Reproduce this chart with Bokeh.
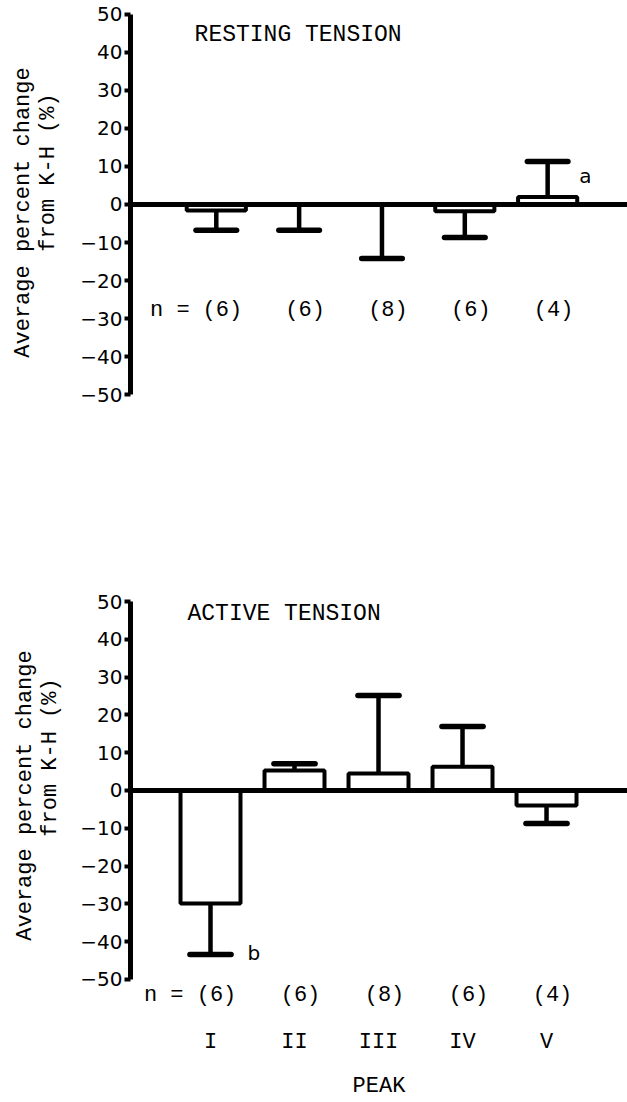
import numpy as np
from bokeh.plotting import figure
from bokeh.models import Range1d, FixedTicker, Span, Label, LabelSet, ColumnDataSource
from bokeh.layouts import column, row
from bokeh.embed import file_html
from bokeh.resources import INLINE
from bokeh.core.properties import value

# ---------------- data ----------------
peaks = ["I", "II", "III", "IV", "V"]
n_counts = ["(6)", "(6)", "(8)", "(6)", "(4)"]
resting_mean = [-1.6, -0.1, -0.1, -1.8, 2.0]
resting_err = [5.2, 6.7, 14.1, 6.9, 9.3]
active_mean = [-29.9, 5.3, 4.5, 6.3, -4.0]
active_err = [13.5, 1.8, 20.6, 10.6, 4.7]
y_ticks = [-50, -40, -30, -20, -10, 0, 10, 20, 30, 40, 50]
ylabel_lines = ["Average percent change", "from K-H (%)"]

MONO = "Liberation Mono"
SANS = "DejaVu Sans"
LABEL_W = 64
xpos = list(range(1, len(peaks) + 1))


def build_source(mean, err):
    m = np.array(mean, dtype=float)
    e = np.array(err, dtype=float)
    sign = np.where(m >= 0, 1.0, -1.0)
    end = m + sign * e
    x = np.array(xpos, dtype=float)
    half = 0.245
    return ColumnDataSource(dict(x=x, mean=m, end=end, cl=x - half, cr=x + half,
                                 n=n_counts))


def panel(mean, err, height, x_lo, y_lo, y_hi, left, bottom_border, show_x):
    p = figure(width=627 - LABEL_W, height=height,
               x_range=Range1d(x_lo, 5.964), y_range=Range1d(y_lo, y_hi),
               output_backend="svg", toolbar_location=None,
               x_axis_location="below" if show_x else None,
               min_border_left=left - LABEL_W, min_border_right=0,
               min_border_top=0, min_border_bottom=bottom_border)
    p.grid.visible = False
    p.outline_line_color = None
    p.background_fill_color = "white"
    p.border_fill_color = "white"

    ya = p.yaxis[0]
    ya.ticker = FixedTicker(ticks=y_ticks)
    ya.bounds = (-50, 50)
    ya.axis_line_width = 5
    ya.axis_line_color = "black"
    ya.major_tick_line_width = 4
    ya.major_tick_out = 6
    ya.major_tick_in = 0
    ya.minor_tick_line_color = None
    ya.major_label_text_font = SANS
    ya.major_label_text_font_size = "20px"
    ya.major_label_text_color = "black"
    ya.major_label_standoff = 2

    src = build_source(mean, err)
    p.segment(x0="x", y0="mean", x1="x", y1="end", source=src,
              line_width=4.5, line_color="black")
    p.vbar(x="x", top="mean", bottom=0, width=0.714, source=src,
           fill_color="white", line_color="black", line_width=4)
    p.segment(x0="cl", y0="end", x1="cr", y1="end", source=src,
              line_width=5.5, line_color="black", line_cap="round")
    p.add_layout(Span(location=0, dimension="width", line_width=5,
                      line_color="black"))
    return p, src


def add_common_text(p, src, title, title_x, title_y, n_y, note, note_x, note_y):
    p.add_layout(Label(x=title_x, y=title_y, text=title, text_font=MONO,
                       text_font_size="23px", text_align="left",
                       text_baseline="middle", text_color="black"))
    src.data["ny"] = [n_y] * len(peaks)
    p.add_layout(LabelSet(x="x", y="ny", text="n", source=src, x_offset=6,
                          text_font=value(MONO), text_font_size=value("22px"),
                          text_align="center", text_baseline="middle",
                          text_color="black"))
    p.add_layout(Label(x=0.679, y=n_y, text="n =", text_font=MONO,
                       text_font_size="22px", text_align="right",
                       text_baseline="middle", text_color="black"))
    p.add_layout(Label(x=note_x, y=note_y, text=note, text_font=SANS,
                       text_font_size="20px", text_align="left",
                       text_baseline="middle", text_color="black"))


# ---------------- top panel: resting tension ----------------
p1, s1 = panel(resting_mean, resting_err, 430, -0.0357, -59.47, 53.68, 123, 0, False)
add_common_text(p1, s1, "RESTING TENSION", 0.738, 44.5, -27.9, "a", 5.381, 7.6)

# ---------------- bottom panel: active tension ----------------
p2, s2 = panel(active_mean, active_err, 672, 0.0476, -57.41, 95.24, 130, 95, True)
xa = p2.xaxis[0]
xa.ticker = FixedTicker(ticks=xpos)
xa.major_label_overrides = {i: lab for i, lab in zip(xpos, peaks)}
xa.axis_line_color = None
xa.major_tick_line_color = None
xa.minor_tick_line_color = None
xa.major_tick_out = 0
xa.major_tick_in = 0
xa.major_label_standoff = 22
xa.major_label_text_font = MONO
xa.major_label_text_font_size = "22px"
xa.major_label_text_color = "black"
xa.axis_label = "PEAK"
xa.axis_label_standoff = 16
xa.axis_label_text_font = MONO
xa.axis_label_text_font_size = "22px"
xa.axis_label_text_font_style = "normal"
xa.axis_label_text_color = "black"
add_common_text(p2, s2, "ACTIVE TENSION", 0.726, 46.8, -54.2, "b", 1.44, -42.9)

# ---------------- shared y-axis titles (rotated) ----------------
pl = figure(width=LABEL_W, height=1102, x_range=Range1d(0, LABEL_W),
            y_range=Range1d(1102, 0), output_backend="svg", toolbar_location=None,
            x_axis_location=None, y_axis_location=None,
            min_border_left=0, min_border_right=0, min_border_top=0,
            min_border_bottom=0)
pl.grid.visible = False
pl.outline_line_color = None
lab_src = ColumnDataSource(dict(
    x=[23, 48, 25, 50],
    y=[212, 172, 795, 757],
    t=ylabel_lines + ylabel_lines,
))
pl.text(x="x", y="y", text="t", source=lab_src, angle=np.pi / 2,
        text_font=value(MONO), text_font_size=value("22px"),
        text_align="center", text_baseline="middle", text_color="black")

layout = row(pl, column(p1, p2))
open("out.html", "w").write(file_html(layout, INLINE))
